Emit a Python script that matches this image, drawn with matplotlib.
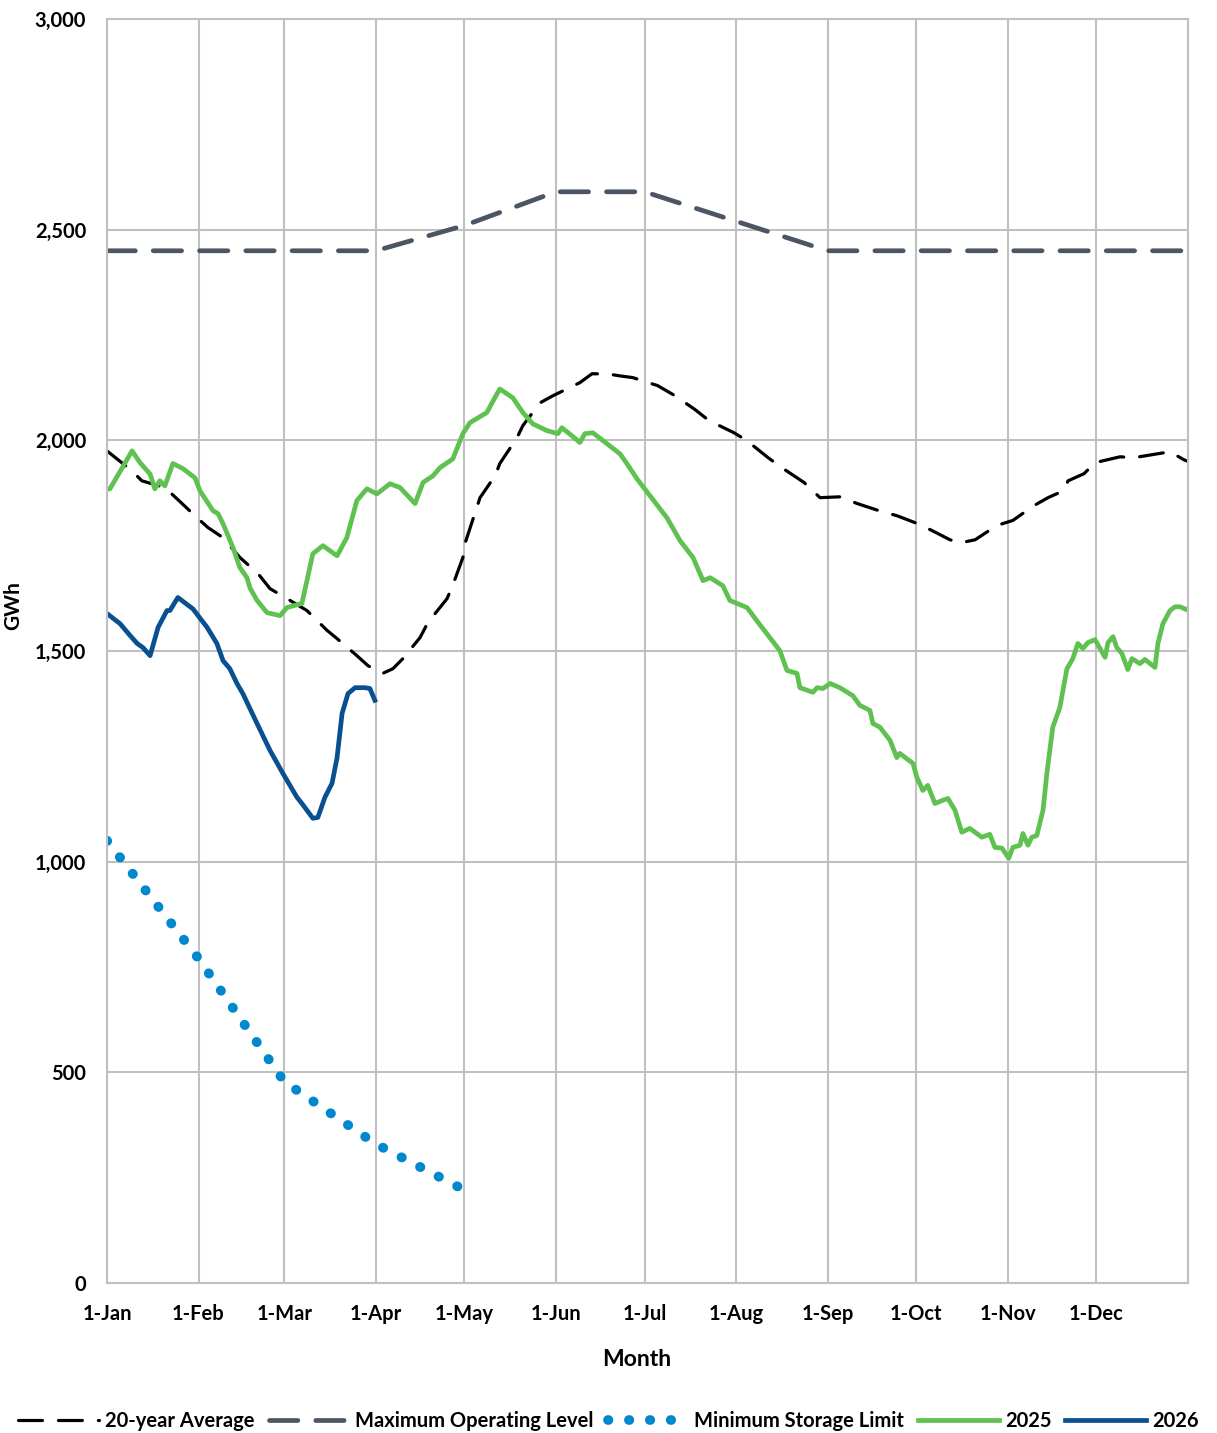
import pandas as pd
import matplotlib.pyplot as plt
from matplotlib.ticker import FuncFormatter

# day of year (0 = 1-Jan), leap-year axis of 366 days
avg_days = [0, 8.4, 11.8, 19.6, 23.6, 30.4, 34.2, 39.3, 45, 51.1, 55.2, 62, 67.7, 74.5,
            77.8, 84.6, 88.4, 93.4, 96.8, 100.2, 106, 108.7, 115.1, 116.8, 120.5, 121.2,
            126.3, 131.4, 133, 138.8, 140.8, 146.6, 151, 160.1, 164.2, 169.3, 173.7, 178,
            186.4, 192.3, 199.1, 203.8, 212.3, 216.7, 223.8, 228.5, 236, 241.4, 248.2,
            254, 261.4, 267.5, 275.3, 280.7, 285.4, 289.1, 293.9, 301.3, 306.7, 313.8,
            318.6, 323.7, 325.4, 330.8, 334.5, 337.5, 343, 347.7, 352.1, 359.9, 364.6, 366]
avg_vals = [1975, 1928, 1904, 1888, 1862, 1817, 1793, 1769, 1722, 1684, 1648, 1620, 1596, 1549,
            1530, 1489, 1465, 1447, 1458, 1482, 1532, 1568, 1624, 1651, 1722, 1755,
            1864, 1916, 1945, 2006, 2035, 2089, 2106, 2137, 2158, 2158, 2153, 2149,
            2130, 2106, 2073, 2047, 2018, 1999, 1959, 1935, 1900, 1864, 1866,
            1850, 1833, 1821, 1800, 1781, 1764, 1757, 1764, 1798, 1810, 1845,
            1864, 1880, 1904, 1921, 1947, 1952, 1961, 1959, 1964, 1973, 1954, 1950]

max_days = [0, 91, 121, 152, 182, 213, 244, 366]
max_vals = [2450, 2450, 2510, 2590, 2590, 2520, 2450, 2450]

min_days = [0, 31, 60, 91, 119]
min_vals = [1050, 770, 478, 330, 228]

y2025_days = [0, 1, 8.5, 11.2, 14.6, 16.2, 17.9, 19.6, 22.3, 25.7, 29.8, 31.5, 35.9, 37.6,
              39.3, 42.7, 45, 47.4, 48.4, 50.8, 54.2, 58.6, 60.9, 66, 69.7, 73.1, 77.9,
              81.2, 84.6, 88, 91.4, 95.8, 99.2, 104.3, 107, 110.4, 112.7, 117.1, 120.5,
              122.9, 128.6, 131.3, 133, 137.4, 140.8, 144.2, 149, 152.7, 154, 157.4, 160.1,
              161.8, 164.5, 169.3, 173.7, 176, 179.4, 183.8, 189.6, 194, 198.4, 201.8,
              204.2, 208.5, 210.9, 216.7, 220, 227.8, 230.2, 233.6, 234.6, 239, 240.4,
              242.4, 244.8, 248.1, 252.5, 254.9, 258.3, 259.3, 261.7, 265.1, 267.4, 268.4,
              272.9, 274.2, 276.2, 277.9, 280.3, 282.7, 284.7, 287.1, 289.4, 292.1, 296.2,
              298.9, 300.6, 303, 305.3, 306.7, 309.1, 310.1, 311.8, 313.1, 314.8, 316.9,
              318.2, 320.2, 322.6, 325, 327, 328.7, 330.4, 332.1, 334.5, 337.9, 338.9,
              340.6, 341.9, 343.6, 345.6, 347, 349.7, 351.4, 354.8, 355.8, 357.5, 359.9,
              361.6, 363.3, 365.6]
y2025_vals = [1885, 1885, 1975, 1947, 1920, 1885, 1904, 1892, 1945, 1933, 1911, 1880, 1833, 1826,
              1802, 1745, 1698, 1674, 1650, 1620, 1591, 1584, 1603, 1613, 1731, 1750, 1726,
              1769, 1857, 1885, 1873, 1897, 1888, 1850, 1900, 1916, 1935, 1956, 2016,
              2042, 2066, 2101, 2122, 2101, 2066, 2039, 2023, 2016, 2030, 2011, 1995,
              2016, 2018, 1992, 1968, 1945, 1909, 1869, 1816, 1762, 1722, 1667,
              1674, 1655, 1620, 1603, 1572, 1501, 1454, 1447, 1413, 1402, 1413,
              1411, 1423, 1413, 1394, 1371, 1359, 1328, 1319, 1288, 1247, 1257,
              1233, 1200, 1169, 1181, 1138, 1145, 1150, 1122, 1070, 1079, 1058,
              1065, 1034, 1032, 1008, 1034, 1039, 1067, 1039, 1058, 1062, 1122,
              1209, 1319, 1366, 1458, 1482, 1518, 1506, 1520, 1527, 1485, 1520,
              1534, 1508, 1494, 1456, 1482, 1470, 1480, 1461, 1518, 1565, 1596,
              1605, 1605, 1598]

y2026_days = [0, 4.4, 7.8, 10.2, 12.2, 14.6, 17.3, 20.3, 21.3, 24, 29.1, 33.9, 37.2, 39.3,
              41.6, 44, 46, 50.8, 55.2, 59.6, 64.3, 66, 69.7, 71.4, 73.8, 76.2, 77.9, 79.6,
              81.6, 84, 87.3, 89, 90.7]
y2026_vals = [1589, 1565, 1537, 1518, 1508, 1489, 1556, 1596, 1596, 1627, 1600, 1556, 1518, 1477,
              1458, 1423, 1399, 1328, 1264, 1209, 1153, 1138, 1103, 1105, 1153, 1186, 1247, 1352,
              1399, 1413, 1413, 1411, 1383]

months = pd.date_range("2024-01-01", "2024-12-01", freq="MS")
month_days = list(months.dayofyear - 1)
month_labels = [f"{d.day}-{d.strftime('%b')}" for d in months]

plt.rcParams['font.family'] = ['Lato', 'DejaVu Sans']
plt.rcParams['font.weight'] = 'bold'

fig = plt.figure(figsize=(12.17, 14.33), dpi=100)
ax = fig.add_axes([0.0879, 0.1047, 0.8883, 0.882])

ax.plot(avg_days, avg_vals, color='black', lw=2.3, linestyle=(0, (7.5, 5.0)),
        dash_capstyle='round', label='20-year Average')
ax.plot(max_days, max_vals, color='#4b5563', lw=3.4, linestyle=(0, (6.0, 3.8)),
        dash_capstyle='round', label='Maximum Operating Level')
ax.plot(min_days, min_vals, color='#0088cf', lw=7.0, linestyle=(0, (0.05, 2.1)),
        dash_capstyle='round', label='Minimum Storage Limit')
ax.plot(y2025_days, y2025_vals, color='#5fc150', lw=3.4, solid_joinstyle='round',
        label='2025')
ax.plot(y2026_days, y2026_vals, color='#08508f', lw=3.4, solid_joinstyle='round',
        label='2026')

ax.set_xlim(0, 366)
ax.set_ylim(0, 3000)
ax.set_xticks(month_days)
ax.set_xticklabels(month_labels)
ax.set_yticks(range(0, 3001, 500))
ax.yaxis.set_major_formatter(FuncFormatter(lambda v, p: f"{int(v):,}"))
ax.tick_params(length=0, labelsize=14.5, pad=15)
ax.grid(True, color='#c0c0c0', lw=1.5)
ax.set_axisbelow(True)
for s in ax.spines.values():
    s.set_color('#c0c0c0')
    s.set_linewidth(1.5)

ax.set_xlabel("Month", fontsize=16.5, fontweight='bold')
ax.set_ylabel("GWh", fontsize=15, fontweight='bold')
ax.xaxis.set_label_coords(0.49, -0.052)
ax.yaxis.set_label_coords(-0.077, 0.536)

fig.legend(loc='lower center', bbox_to_anchor=(0.5, -0.011), ncol=5, frameon=False,
           fontsize=14.5, handlelength=4.0, columnspacing=0.7, handletextpad=0.3)

fig.savefig("out.png", dpi=100)
